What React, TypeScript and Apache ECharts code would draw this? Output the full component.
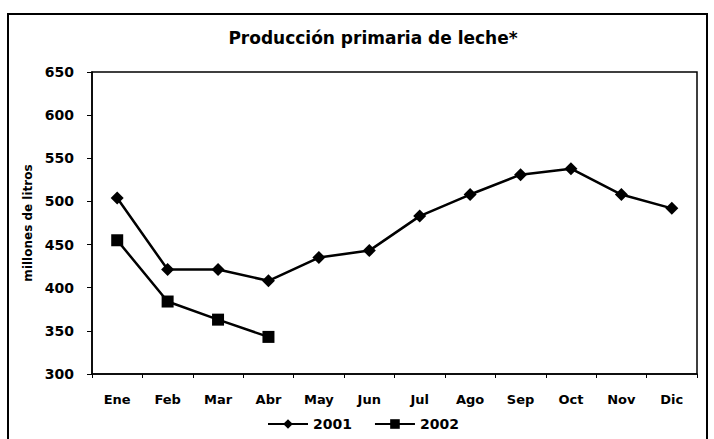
import React, { useEffect, useRef } from "react";
import * as echarts from "echarts";

const months = ["Ene", "Feb", "Mar", "Abr", "May", "Jun", "Jul", "Ago", "Sep", "Oct", "Nov", "Dic"];
const serie2001 = [504, 421, 421, 408, 435, 443, 483, 508, 531, 538, 508, 492];
const serie2002 = [455, 384, 363, 343];
const titleText = "Producción primaria de leche*";
const yName = "millones de litros";

export default function App() {
  const ref = useRef<HTMLDivElement>(null);
  useEffect(() => {
    if (!ref.current) return;
    const chart = echarts.init(ref.current, null, { renderer: "svg" });
    const font = "DejaVu Sans, Liberation Sans, sans-serif";
    chart.setOption({
      animation: false,
      backgroundColor: "#ffffff",
      title: {
        text: titleText,
        left: 368,
        top: 24,
        textAlign: "center",
        textStyle: { fontFamily: font, fontWeight: "bold", fontSize: 17, color: "#000" },
      },
      graphic: [
        {
          type: "rect",
          shape: { x: 8, y: 14, width: 699, height: 440 },
          style: { fill: "none", stroke: "#000", lineWidth: 2 },
          silent: true,
        },
      ],
      legend: {
        bottom: 3,
        left: 262,
        itemWidth: 40,
        itemHeight: 12,
        itemGap: 22,
        textStyle: { fontFamily: font, fontWeight: "bold", fontSize: 14, color: "#000" },
        data: ["2001", "2002"],
      },
      grid: {
        left: 92,
        right: 17,
        top: 72,
        bottom: 65,
        show: true,
        borderColor: "#000",
        borderWidth: 1.5,
      },
      xAxis: {
        type: "category",
        data: months,
        boundaryGap: true,
        axisLine: { lineStyle: { color: "#000", width: 1.5 } },
        axisTick: { show: true, length: 4, lineStyle: { color: "#000" } },
        axisLabel: { margin: 19, fontFamily: font, fontWeight: "bold", fontSize: 13, color: "#000" },
        splitLine: { show: false },
      },
      yAxis: {
        type: "value",
        min: 300,
        max: 650,
        interval: 50,
        name: yName,
        nameLocation: "middle",
        nameGap: 58,
        nameTextStyle: { fontFamily: font, fontWeight: "bold", fontSize: 12, color: "#000" },
        axisLine: { show: true, lineStyle: { color: "#000", width: 1.5 } },
        axisTick: { show: true, length: 5, lineStyle: { color: "#000" } },
        axisLabel: { margin: 18, fontFamily: font, fontWeight: "bold", fontSize: 14, color: "#000" },
        splitLine: { show: false },
      },
      series: [
        {
          name: "2001",
          type: "line",
          data: serie2001,
          symbol: "diamond",
          symbolSize: 13,
          lineStyle: { color: "#000", width: 2.5 },
          itemStyle: { color: "#000" },
        },
        {
          name: "2002",
          type: "line",
          data: serie2002,
          symbol: "rect",
          symbolSize: 12,
          lineStyle: { color: "#000", width: 2.5 },
          itemStyle: { color: "#000", borderRadius: 2 },
        },
      ],
    });
    return () => chart.dispose();
  }, []);
  return (
    <div
      ref={ref}
      style={{ position: "fixed", left: 0, top: 0, width: 714, height: 439 }}
    />
  );
}
